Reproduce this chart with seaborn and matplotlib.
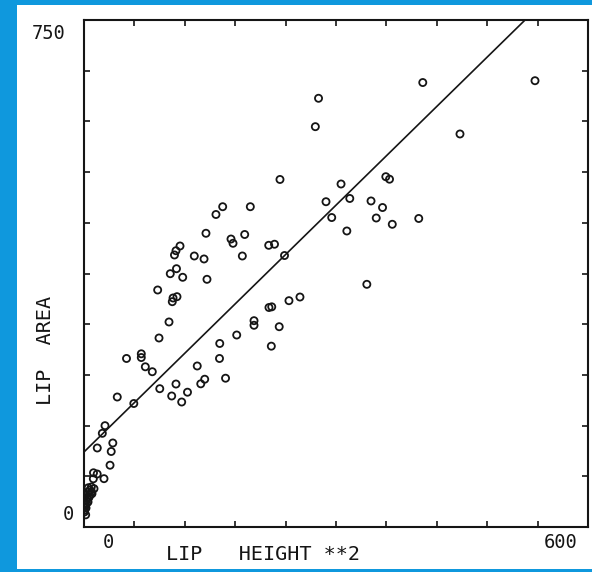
import numpy as np
import pandas as pd
import matplotlib
matplotlib.use("Agg")
import matplotlib.pyplot as plt
import seaborn as sns

# -------------------------------
# Data
# -------------------------------
lip_height_sq = [
    # dense cluster next to the origin
    8.7, 11.9, 4.8, 0.8, 6.8, 9.5, 2.7, 4.8, 0.5, 1.5, 0.5, 0.5, 7.1, 3.6, 2.4,
    1.0, 3.0, 6.0, 9.0, 5.0, 2.0,
    # lower-left group
    11.3, 15.7, 11.1, 23.8, 31.0, 32.4, 34.3, 15.8, 21.8, 25.0, 39.6, 59.3,
    50.6, 68.2, 68.2, 73.0, 81.3, 89.3, 90.2, 104.4, 116.3, 123.2, 109.5,
    134.8, 139.0, 143.7, 168.5, 161.3, 161.6, 181.8, 202.4, 202.4,
    # middle group (above the fit line)
    101.2, 87.7, 110.7, 106.0, 105.1, 110.1, 102.7, 117.5, 146.4,
    114.3, 109.5, 107.7, 131.3, 142.9, 188.5, 145.2, 191.3, 175.0, 177.4,
    165.1, 157.1, 198.0,
    # right-hand group
    220.2, 223.5, 223.0, 232.4, 244.0, 257.1, 336.7, 219.9, 226.8, 238.7,
    233.3, 306.0, 359.3, 363.7, 288.1, 316.4, 341.7, 355.4, 294.9, 347.9,
    367.0, 398.5, 312.9, 279.2, 275.4, 403.3, 447.6, 536.9,
]
lip_area = [
    59.2, 56.7, 51.8, 46.9, 46.9, 49.3, 39.5, 37.0, 34.5, 32.1, 24.7, 22.2, 54.7, 42.9, 28.1,
    30.0, 35.0, 44.0, 52.0, 58.0, 18.0,
    80.2, 78.4, 71.3, 71.5, 91.4, 111.7, 124.3, 116.9, 138.6, 149.9, 192.3, 182.7,
    249.3, 256.2, 250.7, 237.0, 229.7, 279.6, 204.6, 193.8, 184.9, 199.4, 211.5,
    238.2, 211.8, 218.6, 220.1, 249.3, 271.5, 284.0, 305.2, 298.4,
    303.3, 350.6, 340.7, 338.8, 333.3, 382.1, 374.7, 369.4, 366.4,
    415.7, 408.7, 402.4, 400.9, 396.5, 400.9, 434.5, 432.7, 426.0, 419.7,
    473.8, 462.3, 473.8,
    324.7, 325.7, 267.5, 296.3, 334.8, 340.2, 359.0, 416.7, 418.3, 401.6,
    514.1, 507.4, 518.2, 514.5, 481.2, 486.0, 482.3, 472.6, 457.8, 457.1,
    447.8, 456.4, 437.9, 634.2, 592.2, 657.5, 581.4, 660.2,
]

# fitted straight line drawn on the original
fit_intercept = 111.0
fit_slope = 1.217

x_lim = (0, 600)
y_lim = (0, 750)
x_ticks = np.arange(60, 600, 60)
y_ticks = np.arange(75, 750, 75)

df = pd.DataFrame({"lip_height_sq": lip_height_sq, "lip_area": lip_area})

# -------------------------------
# Figure
# -------------------------------
sns.set_theme(style="ticks")
plt.rcParams["font.family"] = ["DejaVu Sans Mono", "DejaVu Sans"]

BLUE = "#0f98dd"
INK = "#151515"

fig = plt.figure(figsize=(5.92, 5.72), dpi=100, facecolor=BLUE)
fig.patches.append(plt.Rectangle((17 / 592, 3 / 572), 1 - 17 / 592, 564 / 572,
                                 transform=fig.transFigure, facecolor="white",
                                 edgecolor="none", zorder=-1))
ax = fig.add_axes([84 / 592, 45 / 572, 504 / 592, 507 / 572])
ax.set_facecolor("white")

sns.scatterplot(data=df, x="lip_height_sq", y="lip_area", ax=ax,
                marker="o", s=26, facecolor="none", edgecolor=INK,
                linewidth=1.3, zorder=3)

x_fit = np.array([0.0, (y_lim[1] - fit_intercept) / fit_slope])
sns.lineplot(x=x_fit, y=fit_intercept + fit_slope * x_fit, ax=ax,
             color=INK, linewidth=1.2, zorder=2)

ax.set_xlim(*x_lim)
ax.set_ylim(*y_lim)
ax.set_xticks(x_ticks)
ax.set_yticks(y_ticks)
ax.tick_params(direction="in", length=4, width=1.2, color=INK,
               top=True, right=True, labelbottom=False, labelleft=False)
for sp in ax.spines.values():
    sp.set_visible(True)
    sp.set_linewidth(1.5)
    sp.set_color(INK)
ax.set_xlabel("")
ax.set_ylabel("")

# end labels placed like the plotter output
tick_font = dict(fontsize=13.5, color=INK, ha="center", va="center",
                 transform=ax.transAxes, clip_on=False)
ax.text(0.0476, -0.0296, "0", **tick_font)
ax.text(0.946, -0.0296, "600", **tick_font)
ax.text(-0.071, 0.974, "750", **tick_font)
ax.text(-0.031, 0.024, "0", **tick_font)

label_font = dict(fontsize=14.5, color=INK, ha="center", va="center",
                  transform=ax.transAxes, clip_on=False)
ax.text(0.356, -0.0552, "LIP   HEIGHT **2", **label_font)
ax.text(-0.0764, 0.349, "LIP  AREA", rotation=90, **label_font)

fig.savefig("out.png", dpi=100, facecolor=BLUE)
